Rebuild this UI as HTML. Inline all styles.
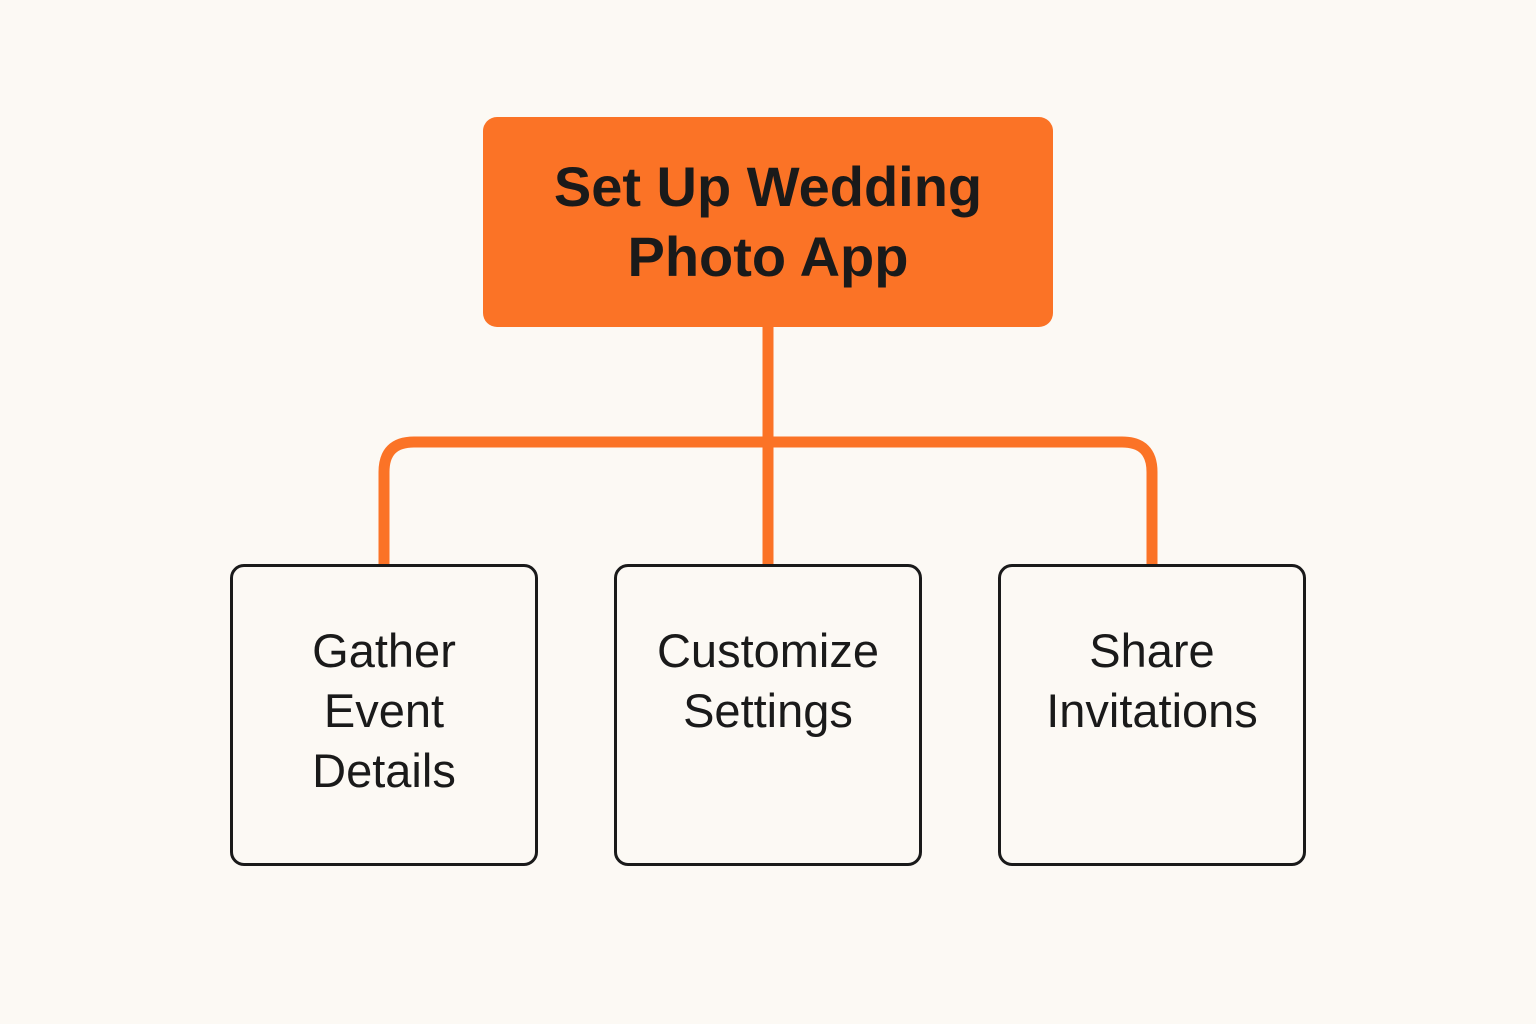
<!DOCTYPE html>
<html><head><style>
html,body{margin:0;padding:0;background:#fcf9f4;}
body{width:1536px;height:1024px;position:relative;overflow:hidden;font-family:"Liberation Sans",sans-serif;}
.top{position:absolute;left:483px;top:117px;width:570px;height:210px;background:#fb7326;border-radius:14px;display:flex;align-items:center;justify-content:center;text-align:center;font-weight:bold;font-size:56px;line-height:70px;color:#1a1a1a;}
.box{position:absolute;top:564px;width:308px;height:302px;border:3px solid #1a1a1a;border-radius:14px;box-sizing:border-box;text-align:center;font-size:47px;line-height:60px;color:#1a1a1a;padding-top:54px;}
</style></head><body>
<svg width="1536" height="1024" style="position:absolute;left:0;top:0">
<g fill="none" stroke="#fb7326" stroke-width="11">
<line x1="768" y1="327" x2="768" y2="566"/>
<path d="M384 566 V472 Q384 442 414 442 H1122 Q1152 442 1152 472 V566"/>
</g></svg>
<div class="top">Set Up Wedding<br>Photo App</div>
<div class="box" style="left:230px">Gather<br>Event<br>Details</div>
<div class="box" style="left:614px">Customize<br>Settings</div>
<div class="box" style="left:998px">Share<br>Invitations</div>
</body></html>
